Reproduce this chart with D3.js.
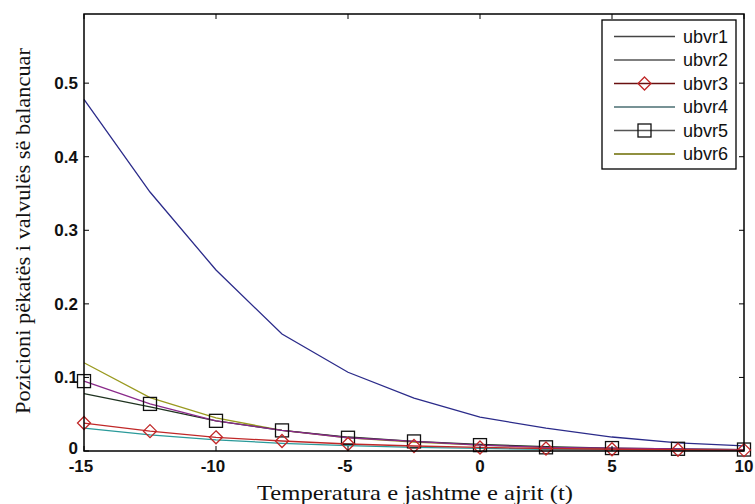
<!DOCTYPE html>
<html><head><meta charset="utf-8">
<script src="https://cdn.jsdelivr.net/npm/d3@7"></script>
<style>body{margin:0;background:#fff}svg{display:block}</style>
</head><body>
<script>
const temps = [-15,-12.5,-10,-7.5,-5,-2.5,0,2.5,5,7.5,10];
const ubvr1 = [0.478,0.352,0.246,0.159,0.107,0.072,0.046,0.031,0.019,0.011,0.007];
const ubvr2 = [0.078,0.060,0.041,0.028,0.019,0.013,0.009,0.006,0.004,0.003,0.002];
const ubvr3 = [0.038,0.027,0.0186,0.0136,0.0095,0.0068,0.0048,0.0034,0.0024,0.0017,0.0012];
const ubvr4 = [0.031,0.022,0.015,0.0105,0.0073,0.005,0.0035,0.0024,0.0017,0.0012,0.0008];
const ubvr5 = [0.095,0.064,0.041,0.028,0.018,0.013,0.008,0.005,0.004,0.003,0.002];
const ubvr6 = [0.120,0.0725,0.045,0.028,0.018,0.012,0.008,0.005,0.003,0.002,0.001];
const seriesNames = ["ubvr1","ubvr2","ubvr3","ubvr4","ubvr5","ubvr6"];
const xTicks = [-15,-10,-5,0,5,10];
const yTicks = [0,0.1,0.2,0.3,0.4,0.5];

const W=755,H=504;
const L=84,R=744,T=14,B=451;
const svg=d3.select("body").append("svg").attr("width",W).attr("height",H);
const x=d3.scaleLinear().domain([-15,10]).range([L,R]);
const y=d3.scaleLinear().domain([0,0.594]).range([B,T]);

const series=[
 {name:seriesNames[0],vals:ubvr1,color:"#2b2b8a",leg:"#444",marker:null},
 {name:seriesNames[1],vals:ubvr2,color:"#1f3320",leg:"#555",marker:null},
 {name:seriesNames[2],vals:ubvr3,color:"#c02828",leg:"#6a1010",marker:"diamond"},
 {name:seriesNames[3],vals:ubvr4,color:"#2a9a9a",leg:"#4a6e72",marker:null},
 {name:seriesNames[4],vals:ubvr5,color:"#8a2a8a",leg:"#555",marker:"square"},
 {name:seriesNames[5],vals:ubvr6,color:"#9a9a20",leg:"#6b6b00",marker:null}
];
const drawOrder=[0,5,1,4,3,2];

const line=d3.line().x(d=>x(d[0])).y(d=>y(d[1]));
const g=svg.append("g");
drawOrder.forEach(i=>{
  const s=series[i];
  const pts=temps.map((t,k)=>[t,s.vals[k]]);
  g.append("path").attr("d",line(pts)).attr("fill","none").attr("stroke",s.color).attr("stroke-width",1.3);
});
function marker(sel,type,cx,cy,stroke){
  if(type==="diamond"){
    sel.append("path").attr("d",`M${cx},${cy-6.5}L${cx+6.5},${cy}L${cx},${cy+6.5}L${cx-6.5},${cy}Z`)
      .attr("fill","none").attr("stroke",stroke).attr("stroke-width",1.3);
  } else if(type==="square"){
    sel.append("rect").attr("x",cx-6.5).attr("y",cy-6.5).attr("width",13).attr("height",13)
      .attr("fill","none").attr("stroke",stroke).attr("stroke-width",1.3);
  }
}
[4,2].forEach(i=>{
  const s=series[i];
  temps.forEach((t,k)=>marker(g,s.marker,x(t),y(s.vals[k]),s.marker==="square"?"#111":"#c02828"));
});

// axes box
svg.append("rect").attr("x",L).attr("y",T).attr("width",R-L).attr("height",B-T)
  .attr("fill","none").attr("stroke","#000").attr("stroke-width",1.5);
const tl=5;
const ax=svg.append("g").attr("stroke","#000").attr("stroke-width",1);
xTicks.forEach(t=>{
  ax.append("line").attr("x1",x(t)).attr("x2",x(t)).attr("y1",B).attr("y2",B-tl);
  ax.append("line").attr("x1",x(t)).attr("x2",x(t)).attr("y1",T).attr("y2",T+tl);
});
yTicks.forEach(t=>{
  ax.append("line").attr("x1",L).attr("x2",L+tl).attr("y1",y(t)).attr("y2",y(t));
  ax.append("line").attr("x1",R).attr("x2",R-tl).attr("y1",y(t)).attr("y2",y(t));
});
const tf="Liberation Sans, Arial, sans-serif";
svg.append("g").selectAll("text").data(xTicks).join("text")
  .attr("x",d=>x(d)-(d<0?3:0)).attr("y",B+21).attr("text-anchor","middle")
  .attr("font-family",tf).attr("font-size",17).attr("font-weight","bold").attr("fill","#111")
  .text(d=>d);
svg.append("g").selectAll("text").data(yTicks).join("text")
  .attr("x",L-6).attr("y",d=>y(d)+(d===0?3:6)).attr("text-anchor","end")
  .attr("font-family",tf).attr("font-size",17).attr("font-weight","bold").attr("fill","#111")
  .text(d=>d===0?"0":d3.format(".1f")(d));

const sf="Liberation Serif, Times New Roman, serif";
svg.append("text").attr("x",415).attr("y",500).attr("text-anchor","middle")
  .attr("font-family",sf).attr("font-size",22).attr("fill","#111")
  .attr("textLength",316).attr("lengthAdjust","spacingAndGlyphs")
  .text("Temperatura e jashtme e ajrit (t)");
svg.append("text").attr("transform","translate(30,231) rotate(-90)").attr("text-anchor","middle")
  .attr("font-family",sf).attr("font-size",22).attr("fill","#111")
  .attr("textLength",366).attr("lengthAdjust","spacingAndGlyphs")
  .text("Pozicioni pëkatës i valvulës së balancuar");

// legend
const lg=svg.append("g");
lg.append("rect").attr("x",602).attr("y",20).attr("width",134).attr("height",149)
  .attr("fill","#fff").attr("stroke","#000").attr("stroke-width",1.3);
series.forEach((s,i)=>{
  const yy=36.5+i*23.5;
  lg.append("line").attr("x1",614).attr("x2",675).attr("y1",yy).attr("y2",yy)
    .attr("stroke",s.leg).attr("stroke-width",1.3);
  if(s.marker) marker(lg,s.marker,644.5,yy,s.marker==="square"?"#111":"#c02828");
  lg.append("text").attr("x",683).attr("y",yy+6).attr("font-family",tf).attr("font-size",18)
    .attr("fill","#111").text(s.name);
});
</script>
</body></html>
